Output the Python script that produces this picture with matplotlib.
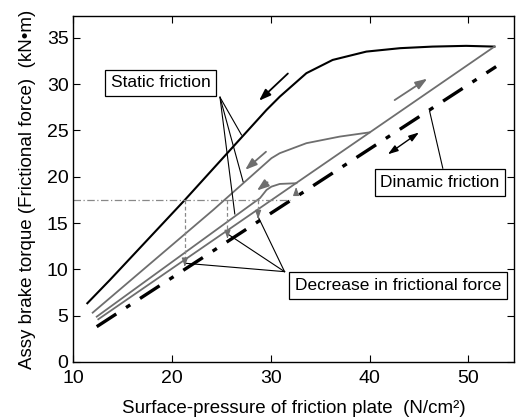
import matplotlib
matplotlib.use("Agg")
import matplotlib.pyplot as plt

plt.rcParams["font.family"] = ["Liberation Sans", "DejaVu Sans"]

GRAY = "#6e6e6e"

# Outer static-friction curve (black)
static_x = [11.41, 13.70, 21.28, 29.55, 30.90, 33.59, 36.25, 39.66, 43.09, 46.36, 49.77, 52.63]
static_y = [6.34, 8.86, 17.49, 27.21, 28.65, 31.18, 32.61, 33.51, 33.88, 34.05, 34.13, 34.05]

# Straight return line (gray)
return_x = [12.52, 52.63]
return_y = [4.61, 34.05]

# Middle loop (gray)
mid_x = [11.95, 24.15, 30.05, 30.89, 33.59, 36.95, 39.99]
mid_y = [5.32, 16.41, 22.00, 22.54, 23.62, 24.33, 24.79]

# Lower loop (gray)
low_x = [12.36, 28.90, 29.55, 30.05, 30.89, 32.58]
low_y = [4.89, 17.70, 18.57, 18.93, 19.22, 19.30]

# Dynamic friction (dash-dot)
dyn_x = [12.36, 52.80]
dyn_y = [3.81, 31.89]

# Reference level and drops
ref_level = 17.5
ref_end = 31.9
drop_x = [21.28, 25.60, 28.70]
drop_to = [10.00, 13.00, 15.15]
rise_x = 32.55
rise_from = 17.80
rise_to = 19.20

fig = plt.figure(figsize=(5.17, 4.17), dpi=100)
ax = fig.add_axes([0.142, 0.132, 0.852, 0.830])

ax.plot(static_x, static_y, color="black", lw=1.5)
ax.plot(return_x, return_y, color=GRAY, lw=1.3)
ax.plot(mid_x, mid_y, color=GRAY, lw=1.3)
ax.plot(low_x, low_y, color=GRAY, lw=1.3)
ax.plot(dyn_x, dyn_y, color="black", lw=2.4, linestyle=(0, (7, 3.5, 1.5, 3.5)))

ax.plot([10, ref_end], [ref_level, ref_level], color="#888888", lw=0.9,
        linestyle=(0, (6, 2, 1, 2)))
for x, y in zip(drop_x, drop_to):
    ax.plot([x, x], [ref_level, y + 0.6], color="#888888", lw=0.9, linestyle=(0, (3, 2)))
    ax.annotate("", xy=(x, y), xytext=(x, y + 0.9),
                arrowprops=dict(arrowstyle="-|>,head_length=0.5,head_width=0.18",
                                color=GRAY, lw=0.8))
ax.annotate("", xy=(rise_x, rise_to), xytext=(rise_x, rise_from),
            arrowprops=dict(arrowstyle="-|>,head_length=0.5,head_width=0.18",
                            color=GRAY, lw=0.8))

# direction arrows
arr = dict(arrowstyle="-|>,head_length=0.7,head_width=0.25", lw=1.3)
ax.annotate("", xy=(28.59, 28.00), xytext=(31.92, 31.35), arrowprops=dict(arr, color="black"))
ax.annotate("", xy=(46.06, 30.75), xytext=(42.29, 28.11), arrowprops=dict(arr, color=GRAY))
ax.annotate("", xy=(27.18, 20.55), xytext=(29.71, 22.89), arrowprops=dict(arr, color=GRAY))
ax.annotate("", xy=(28.36, 18.33), xytext=(29.88, 19.58), arrowprops=dict(arr, color=GRAY))
ax.annotate("", xy=(45.22, 24.95), xytext=(41.61, 22.25),
            arrowprops=dict(arrowstyle="<|-|>,head_length=0.6,head_width=0.2", lw=1.0, color="black"))

# leader lines
for tx, ty in [(27.02, 24.51), (27.18, 19.47), (26.34, 15.98)]:
    ax.plot([24.84, tx], [28.58, ty], color="black", lw=0.8)
for tx, ty in [(21.28, 10.66), (25.50, 13.90), (28.70, 15.69)]:
    ax.plot([31.38, tx], [9.75, ty], color="black", lw=0.8)
ax.plot([47.40, 46.06], [20.92, 27.10], color="black", lw=0.8)

box = dict(boxstyle="square,pad=0.32", fc="white", ec="black", lw=0.9)
ax.text(18.84, 30.15, "Static friction", fontsize=12.5, ha="center", va="center", bbox=box)
ax.text(47.10, 19.38, "Dinamic friction", fontsize=12.5, ha="center", va="center", bbox=box)
ax.text(42.85, 8.26, "Decrease in frictional force", fontsize=12.5, ha="center", va="center", bbox=box)

ax.set_xlim(10, 54.6)
ax.set_ylim(0, 37.37)
ax.set_xticks([10, 20, 30, 40, 50])
ax.set_yticks([0, 5, 10, 15, 20, 25, 30, 35])
ax.tick_params(direction="in", top=True, right=True, length=5, labelsize=14, width=0.8)
ax.tick_params(axis="x", pad=6)
for s in ax.spines.values():
    s.set_linewidth(1.0)

ax.set_xlabel("Surface-pressure of friction plate  (N/cm²)", fontsize=13.5, labelpad=9)
ax.set_ylabel("Assy brake torque (Frictional force)  (kN•m)", fontsize=13.5, labelpad=8)

fig.savefig("out.png", dpi=100)
